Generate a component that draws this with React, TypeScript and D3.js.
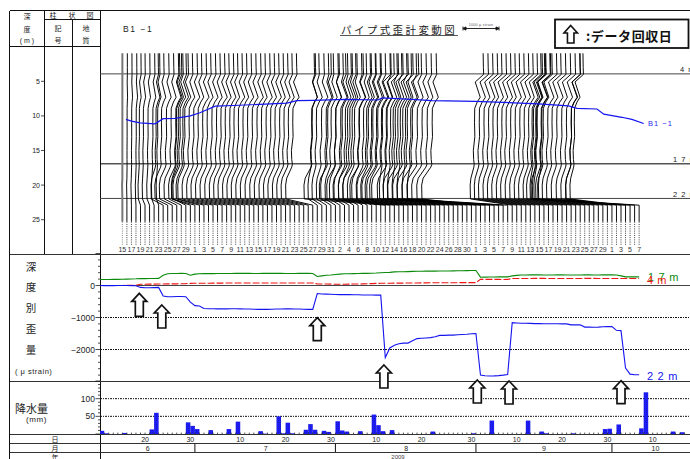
import React from "react";
import * as d3 from "d3";

// ---- data: indices are days since 10 June 2009 ----
const strain22 = [
  0,-5,-5,-5,0,0,0,-5,-10,
  -60,-70,-70,-65,-60,
  -330,-350,-350,-345,-345,-350,
  -520,-630,-640,-720,
  -725,-725,-730,-730,-730,-725,-725,-730,-735,-735,-740,-745,-745,-745,-740,-735,-735,-730,-730,-735,-735,-740,-745,-745,
  -250,-265,-270,-275,-280,-285,-285,-285,-290,-290,-295,-295,-295,-300,-300,
  -2250,-1950,-1870,-1820,-1800,-1800,-1730,-1660,-1650,-1640,-1630,-1600,-1560,-1560,-1550,-1550,-1540,-1530,-1525,-1510,-1500,
  -2800,-2820,-2830,-2825,-2815,-2800,-2780,
  -1160,-1170,-1180,-1180,-1185,-1190,-1190,-1195,-1195,-1195,-1195,-1200,-1200,-1230,-1230,-1230,-1300,-1300,-1305,-1300,-1290,-1285,-1280,
  -1400,-1410,-2580,-2770,-2790,-2790,
];
const strain17 = [
  187,187,187,190,190,195,200,
  205,210,220,215,218,220,222,
  320,365,375,375,378,375,
  320,355,
  365,370,372,372,375,375,375,375,378,378,378,378,375,375,378,378,378,378,378,375,375,375,378,378,378,375,
  280,300,320,330,345,355,
  365,368,370,375,378,380,385,390,400,
  405,410,425,430,432,435,440,445,445,448,448,450,452,455,455,458,460,462,465,468,470,
  260,262,265,265,268,270,270,
  300,315,
  330,330,332,332,332,330,330,330,332,332,330,330,330,330,332,332,330,330,332,332,335,
  330,300,270,270,268,270,
];
const strain4 = [
  0,0,0,0,0,0,5,5,10,
  40,40,42,42,45,48,50,50,52,55,58,65,70,70,
  72,72,75,75,75,78,78,78,80,80,80,80,80,80,80,80,80,80,80,80,80,80,80,80,80,
  50,48,45,42,40,40,40,42,45,48,50,55,60,65,70,
  70,72,75,75,75,78,80,80,82,82,85,85,85,85,88,88,88,90,90,90,
  90,
  190,190,190,190,190,185,190,
  220,220,220,220,220,222,222,222,220,220,220,218,218,220,220,220,222,222,222,220,220,220,218,220,220,220,220,220,220,
].slice(0, 120);
const wiggle = [
  0,0,0,0,0,0,0.4,0.8,1.2,1.6,2,2.2,2.6,3,3.4,3.8,4.2,4.4,4.6,5,
  5,4.6,5,5.4,5,5.4,5,5.6,5.2,5.4,5,5.6,5.2,5.4,5,5.6,5,5.4,5.2,5.6,
  5,5.4,5.2,5.6,5,5.4,5.2,5.6,5,5.2,5.6,5,5.4,5.2,5.6,5,5.4,5.2,5.6,5,
  5.4,5.2,5.6,4.6,4.8,5,5.2,5.4,5,5.6,5,5.4,5.2,5.6,5,5.4,5.2,5.6,5,5.4,
  5.2,5.6,5,5.4,5.6,5.2,5.4,5,5.6,5.2,5.6,5,5.4,5.2,5.6,5,5.4,5.2,5.6,5,
  5.4,5.2,5.6,5,5.4,5.2,5.6,5,5.4,5.2,5.6,5,5.4,5.2,5.6,5,5.4,5.6,5.2,5.4,
];
const readingLabels = [
  "15","17","19","21","23","25","27","29",
  "1","3","5","7","9","11","13","15","17","19","21","23","25","27","29","31",
  "2","4","6","8","10","12","14","16","18","20","22","24","26","28","30",
  "1","3","5","7","9","11","13","15","17","19","21","23","25","27","29",
  "1","3","5","7",
];
const profileDays = [5.8,7,8.9,12.2,14,16.6,20,22.1,25.5,29.5,41.3,43.5,47.2,54.2,61.4,62.3,68.9,73.3,82.9,96.8,103.4,105.3,109.7,111.2,115.2,117.4,120];
const profileDepth = [10.5,10.75,11,11.15,10.4,10.35,10,9.55,8.6,8.5,8.15,7.8,7.76,7.6,7.7,7.4,7.6,7.8,7.9,8.25,8.55,8.9,9,9.75,10.2,10.5,11.1];
const rainDays = [0,1,5,11,12,19,20,21,24,28,30,35,36,39,40,41,42,45,46,47,49,50,52,53,54,57,60,61,62,64,73,82,86,94,97,98,104,111,112,114,119,120,126,128];
const rainMm = [9,2,3,13,60,33,23,14,11,14,35,8,1,50,2,32,2,12,28,12,9,6,36,10,7,8,55,25,8,11,7,2,38,38,7,2,2,14,15,27,16,118,7,5];
const arrowDays = [8.74,13.7,48,62.7,83.3,90.3,115];
const arrowTipStrain = [-244,-610,-1006,-2484,-2953,-2984,-2975];
const dayTickDays = [10,20,31,41,51,61,71,82,92,102,112,122];
const dayTickLabels = ["20","30","10","20","30","10","20","30","10","20","30","10"];
const monthBoundDays = [21,52,83,113];
const monthLabels = [["6",10.6],["7",36.6],["8",67.6],["9",98],["10",122.6]] as const;
const depthTicks = [5,10,15,20,25];
const depthLines = [[4,"4 m"],[17,"1 7 m"],[22,"2 2 m"]] as const;

const FONT = "'Liberation Sans', 'Noto Sans CJK JP', sans-serif";
const CJK = "'Noto Sans CJK JP', sans-serif";
const BLUE = "#1414f0";

const x = d3.scaleLinear().domain([0, 130]).range([99.7, 689]);
const yDepth = d3.scaleLinear().domain([0, 25]).range([46.7, 219.7]);
const yStrain = d3.scaleLinear().domain([1000, -3000]).range([253.5, 381.5]);
const yRain = d3.scaleLinear().domain([0, 150]).range([434, 381]);
const offset = d3.scaleLinear().domain([0, 1000]).range([0, 36]);

const indices = d3.range(120);
const readingDays = d3.range(5, 120);

function profile(d: number): [number, number][] {
  const s22 = offset(strain22[d] - strain22[5]);
  const s17 = offset(strain17[d] - strain17[5]);
  const s4 = offset(strain4[d] - strain4[5]);
  const a = wiggle[d];
  const b = s22 + s17;
  const j = a * 0.06;
  return [
    [25.3, 0], [22.9, 0], [22, s22], [20, s22 - 0.3], [19, s22 + s17 * 0.12],
    [17.4, s22 + s17 * 0.9], [17, b], [16.3, b - j * 2], [15, b - j * 3], [13, b + j * 2],
    [11, b + j], [8.9, b + a * 0.1], [8, b + a * 0.6], [7.3, b + a * 1.2], [5.1, b + a * 0.2],
    [4, b + s4 + a * 0.3], [3, b + s4 + a * 0.25], [0.95, b + s4 + a * 0.2],
  ];
}

const readingLine = d3.line<[number, number]>().x(p => p[1]).y(p => yDepth(p[0]));

function arrowPath(cx: number, tip: number, h = 23, w = 15, sw = 8, hh = 8) {
  const pts: [number, number][] = [
    [cx, tip], [cx + w / 2, tip + hh], [cx + sw / 2, tip + hh], [cx + sw / 2, tip + h],
    [cx - sw / 2, tip + h], [cx - sw / 2, tip + hh], [cx - w / 2, tip + hh],
  ];
  return d3.line()(pts) + "Z";
}

const strainLine = (vals: number[]) =>
  d3.line<number>().x(d => x(d)).y(d => yStrain(vals[d]))(indices) as string;

export default function App() {
  const t = (s: string, px: number, py: number, size: number, extra: any = {}) => (
    <text x={px} y={py} fontSize={size} dominantBaseline="central" fontFamily={FONT} fill="#222" {...extra}>{s}</text>
  );
  const cjk = { fontFamily: CJK, textAnchor: "middle" };
  return (
    <svg width={690} height={459} viewBox="0 0 690 459" style={{ position: "absolute", left: 0, top: 0, display: "block", background: "#fff" }}>
      <defs>
        <pattern id="hatch" width="2" height="2" patternUnits="userSpaceOnUse">
          <rect width="2" height="2" fill="#1c1cff" />
          <rect width="1" height="1" fill="#1a1ac0" />
        </pattern>
        <clipPath id="plot"><rect x={100} y={10} width={590} height={449} /></clipPath>
      </defs>

      {/* frame */}
      <g stroke="#111" strokeWidth={1} fill="none" shapeRendering="crispEdges">
        <path d="M9.5 10.5H690M9.5 10.5V459M44.5 10.5V254M72.5 19.5V254M100.5 10.5V459" />
        <path d="M44.5 19.5H100.5M9.5 46.5H100.5" />
        <path d="M9.5 254H690M9.5 381H690M9.5 434H690M9.5 443.5H690M9.5 452H690" stroke="#333" />
      </g>
      {/* header */}
      {t("深", 27, 16, 7, cjk)}{t("度", 27, 29, 7, cjk)}
      {t("( m )", 27, 40, 7, { textAnchor: "middle" })}
      {t("柱", 53, 15, 7, cjk)}{t("状", 72, 15, 7, cjk)}{t("図", 90, 15, 7, cjk)}
      {t("記", 58, 28, 7, cjk)}{t("号", 58, 40, 7, cjk)}
      {t("地", 86, 28, 7, cjk)}{t("質", 86, 40, 7, cjk)}
      {t("B1 −1", 123, 29, 8.5, { letterSpacing: 1.6 })}
      {t("パイプ式歪計変動図", 341, 29, 10.5, { fontFamily: CJK, letterSpacing: 2.4 })}
      <line x1={340} x2={458} y1={35.5} y2={35.5} stroke="#555" strokeWidth={1} />
      {t("1000 μ strain", 481, 24.5, 3.6, { textAnchor: "middle", letterSpacing: 0.3, fill: "#555" })}
      <path d="M463 28.5H499M463 26.5V30.5M499 26.5V30.5M463 28.5l3 -1.6v3.2zM499 28.5l-3 -1.6v3.2z" stroke="#111" strokeWidth={0.9} fill="#111" />
      {/* legend */}
      <rect x={555} y={19.5} width={133.5} height={28.5} fill="#fff" stroke="#111" strokeWidth={1.8} />
      <path d={arrowPath(570.7, 25.5, 17.5, 13.5, 6.5, 7.5)} fill="#fff" stroke="#111" strokeWidth={1.6} />
      {t(":データ回収日", 586, 35, 13, { fontFamily: CJK, fontWeight: 700, fill: "#111", letterSpacing: 0.6 })}

      {/* depth axis */}
      {depthTicks.map(v => (
        <g key={v}>
          <line x1={41} x2={44} y1={yDepth(v)} y2={yDepth(v)} stroke="#222" strokeWidth={0.8} />
          {t(String(v), 40, yDepth(v), 7, { textAnchor: "end" })}
        </g>
      ))}

      {/* reference depth lines */}
      <g clipPath="url(#plot)">
        {depthLines.map(([dp, label]) => (
          <g key={dp}>
            <line x1={100} x2={690} y1={yDepth(dp) - 0.5} y2={yDepth(dp) - 0.5} stroke={dp === 17 ? "#000" : "#444"} strokeWidth={1} />
            {t(label, dp === 4 ? 680 : 673, yDepth(dp) - 4.5, 7.5, { letterSpacing: 1 })}
          </g>
        ))}
        {/* pipe strain profiles */}
        {readingDays.map(d => (
          <path key={d} d={readingLine(profile(d).map(([dp, dx]) => [dp, x(d) + dx] as [number, number])) as string}
            fill="none" stroke={d === 5 ? "#777" : "#000"} strokeWidth={d === 5 ? 2 : 0.95} />
        ))}
        {readingDays.map(d => (
          <line key={d} x1={x(d)} x2={x(d)} y1={yDepth(25.3)} y2={245} stroke={d === 5 ? "#888" : "#444"} strokeWidth={1} strokeDasharray="1 1.2" />
        ))}
        {readingLabels.map((s, i) => (
          <text key={i} x={x(5 + i * 2)} y={249.5} fontSize={7} textAnchor="middle" dominantBaseline="central" fontFamily={FONT} fill="#333">{s}</text>
        ))}
        <path d={d3.line<number>().x(d => x(d)).y((_, i) => yDepth(profileDepth[i]))(profileDays) as string} fill="none" stroke={BLUE} strokeWidth={1.2} />
        {t("B1 −1", 648, 123, 7.5, { fill: "#2a2af0", letterSpacing: 1 })}

        {/* strain panel */}
        <line x1={100} x2={690} y1={yStrain(0)} y2={yStrain(0)} stroke="#444" strokeWidth={1.2} />
        {[-1000, -2000].map(v => (
          <line key={v} x1={100} x2={690} y1={yStrain(v)} y2={yStrain(v)} stroke="#111" strokeWidth={1} strokeDasharray="2 1 1 1" />
        ))}
        <path d={strainLine(strain17)} fill="none" stroke="#0b8a0b" strokeWidth={1.1} />
        <path d={strainLine(strain4)} fill="none" stroke="#f01414" strokeWidth={1.1} strokeDasharray="7 2" />
        <path d={strainLine(strain22)} fill="none" stroke={BLUE} strokeWidth={1.1} />
        {t("1 7 m", 648, 276.5, 11, { fill: "#0b8a0b", letterSpacing: 0.7 })}
        {t("4 m", 647, 279.5, 11, { fill: "#f01414", letterSpacing: 0.6 })}
        {t("2 2 m", 647, 375.5, 11, { fill: BLUE, letterSpacing: 0.7 })}

        {/* rain panel */}
        {[50, 100].map(v => (
          <line key={v} x1={100} x2={690} y1={yRain(v)} y2={yRain(v)} stroke="#111" strokeWidth={1} strokeDasharray="2 1 1 1" />
        ))}
        {rainDays.map((d, i) => (
          <rect key={d} x={x(d)} width={x(d + 1) - x(d)} y={yRain(rainMm[i])} height={yRain(0) - yRain(rainMm[i])} fill="url(#hatch)" />
        ))}
        {d3.range(0, 130).map(d => (
          <line key={d} x1={x(d)} x2={x(d)} y1={432.6} y2={434} stroke="#222" strokeWidth={0.8} />
        ))}
      </g>

      {/* strain axis */}
      {d3.range(-3000, 1001, 200).map(v => (
        <line key={v} x1={v % 1000 === 0 ? 95.5 : 98} x2={100} y1={yStrain(v)} y2={yStrain(v)} stroke="#222" strokeWidth={0.8} />
      ))}
      {[0, -1000, -2000].map(v => t(v === 0 ? "0" : "−" + Math.abs(v), 95, yStrain(v), 8.5, { textAnchor: "end", key: v }))}
      {d3.range(0, 151, 10).map(v => (
        <line key={v} x1={v % 50 === 0 ? 95.5 : 98} x2={100} y1={yRain(v)} y2={yRain(v)} stroke="#222" strokeWidth={0.8} />
      ))}
      {[50, 100].map(v => t(String(v), 95, yRain(v), 8.5, { textAnchor: "end", key: v }))}

      {/* panel titles */}
      {["深", "度", "別", "歪", "量"].map((s, i) => (
        <text key={s} x={31} y={[266, 286, 307, 328.5, 349][i]} fontSize={10.5} textAnchor="middle" dominantBaseline="central" fontFamily={CJK} fill="#222">{s}</text>
      ))}
      {t("( μ strain)", 15, 371, 7.5, { letterSpacing: 0.5 })}
      {t("降水量", 15, 408, 11, { fontFamily: CJK })}
      {t("(mm)", 26, 419.5, 8, { letterSpacing: 0.6 })}

      {/* date rows */}
      {t("日", 55, 439, 7, cjk)}{t("月", 55, 448, 7, cjk)}{t("年", 55, 456.5, 7, cjk)}
      {dayTickDays.map((d, i) => t(dayTickLabels[i], x(d), 439, 7, { textAnchor: "middle", key: d }))}
      {monthBoundDays.map(d => (
        <line key={d} x1={x(d)} x2={x(d)} y1={443.5} y2={452} stroke="#111" strokeWidth={1} />
      ))}
      {monthLabels.map(([s, d]) => t(s, x(d), 448, 7, { textAnchor: "middle", key: s }))}
      {t("2009", 398, 456.5, 6, { textAnchor: "middle", fill: "#444" })}

      {/* data-collection arrows */}
      {arrowDays.map((d, i) => (
        <path key={d} d={arrowPath(x(d), yStrain(arrowTipStrain[i]))} fill="#fff" stroke="#111" strokeWidth={1.7} />
      ))}
    </svg>
  );
}
